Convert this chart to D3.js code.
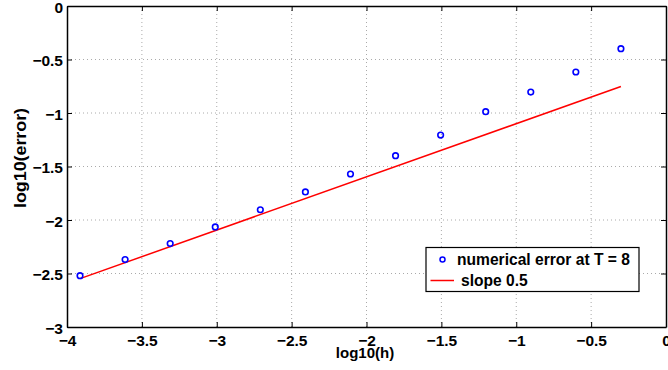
<!DOCTYPE html>
<html><head><meta charset="utf-8">
<script src="https://cdn.jsdelivr.net/npm/d3@7"></script>
<style>body{margin:0;background:#fff}svg{display:block;font-family:"Liberation Sans",Arial,sans-serif;font-weight:bold}</style>
</head><body>
<svg id="c" width="668" height="370"></svg>
<script>
const logH = [-3.913, -3.612, -3.311, -3.010, -2.709, -2.408, -2.107, -1.806, -1.505, -1.204, -0.903, -0.602, -0.301];
const logErr = [-2.52, -2.37, -2.22, -2.065, -1.904, -1.738, -1.570, -1.399, -1.206, -0.988, -0.804, -0.617, -0.399];
const slopeX = [-3.913, -0.301];
const slopeY = [-2.548, -0.752];
const xTicks = [-4, -3.5, -3, -2.5, -2, -1.5, -1, -0.5, 0];
const yTicks = [0, -0.5, -1, -1.5, -2, -2.5, -3];
const seriesNames = ["numerical error at T = 8", "slope 0.5"];

const L = 67, R = 666, T = 6, B = 327;
const svg = d3.select("#c");
const x = d3.scaleLinear().domain([-4, 0]).range([L, R]);
const y = d3.scaleLinear().domain([-3, 0]).range([B, T]);
const fmt = v => (v < 0 ? "\u2212" : "") + Math.abs(v);

// grid
const g = svg.append("g");
g.selectAll(".gx").data(xTicks.slice(1, -1)).enter().append("line")
  .attr("x1", d => x(d)).attr("x2", d => x(d)).attr("y1", T).attr("y2", B)
  .attr("stroke", "#aaa").attr("stroke-width", 1).attr("stroke-dasharray", "1,3");
g.selectAll(".gy").data(yTicks.slice(1, -1)).enter().append("line")
  .attr("y1", d => y(d)).attr("y2", d => y(d)).attr("x1", L).attr("x2", R)
  .attr("stroke", "#aaa").attr("stroke-width", 1).attr("stroke-dasharray", "1,3");

// axes
const axB = svg.append("g").attr("transform", `translate(0,${B})`)
  .call(d3.axisBottom(x).tickValues(xTicks).tickFormat(fmt).tickSizeInner(-5).tickSizeOuter(0).tickPadding(8));
const axL = svg.append("g").attr("transform", `translate(${L},0)`)
  .call(d3.axisLeft(y).tickValues(yTicks).tickFormat(fmt).tickSizeInner(-5).tickSizeOuter(0).tickPadding(4));
const axT = svg.append("g").attr("transform", `translate(0,${T})`)
  .call(d3.axisTop(x).tickValues(xTicks).tickFormat("").tickSizeInner(-5).tickSizeOuter(0));
const axR = svg.append("g").attr("transform", `translate(${R},0)`)
  .call(d3.axisRight(y).tickValues(yTicks).tickFormat("").tickSizeInner(-5).tickSizeOuter(0));
[axB, axL, axT, axR].forEach(a => {
  a.selectAll(".domain").attr("stroke", "#000").attr("stroke-width", 1.5);
  a.selectAll(".tick line").attr("stroke", "#000").attr("stroke-width", 1);
  a.selectAll("text").attr("fill", "#000").style("font-size", "15.5px").style("font-weight", "bold").style("font-family", '"Liberation Sans",Arial,sans-serif');
});
axB.selectAll("text").attr("dy", "0.71em");
axL.selectAll("text").attr("dy", "0.4em");

// slope line
svg.append("path").datum(slopeX.map((d, i) => [d, slopeY[i]]))
  .attr("d", d3.line().x(d => x(d[0])).y(d => y(d[1])))
  .attr("fill", "none").attr("stroke", "#ff0000").attr("stroke-width", 1.5);

// points
svg.selectAll(".pt").data(logH.map((d, i) => [d, logErr[i]])).enter().append("circle")
  .attr("cx", d => x(d[0])).attr("cy", d => y(d[1])).attr("r", 2.8)
  .attr("fill", "none").attr("stroke", "#0000ff").attr("stroke-width", 1.6);

// axis titles
svg.append("text").attr("x", 365).attr("y", 357.5).attr("text-anchor", "middle")
  .style("font-size", "15px").text("log10(h)");
svg.append("text").attr("transform", `translate(26,158) rotate(-90)`).attr("text-anchor", "middle")
  .attr("textLength", 100).attr("lengthAdjust", "spacingAndGlyphs")
  .style("font-size", "16px").text("log10(error)");

// legend
const lg = svg.append("g");
lg.append("rect").attr("x", 426).attr("y", 247.5).attr("width", 213).attr("height", 44)
  .attr("fill", "#fff").attr("stroke", "#000").attr("stroke-width", 1.2);
lg.append("circle").attr("cx", 442.5).attr("cy", 259.5).attr("r", 2.5)
  .attr("fill", "none").attr("stroke", "#0000ff").attr("stroke-width", 1.5);
lg.append("line").attr("x1", 430.5).attr("x2", 454).attr("y1", 280.5).attr("y2", 280.5)
  .attr("stroke", "#ff0000").attr("stroke-width", 1.5);
lg.append("text").attr("x", 457).attr("y", 265).style("font-size", "15.6px").text(seriesNames[0]);
lg.append("text").attr("x", 461).attr("y", 285.5).style("font-size", "15.6px").text(seriesNames[1]);
</script>
</body></html>
